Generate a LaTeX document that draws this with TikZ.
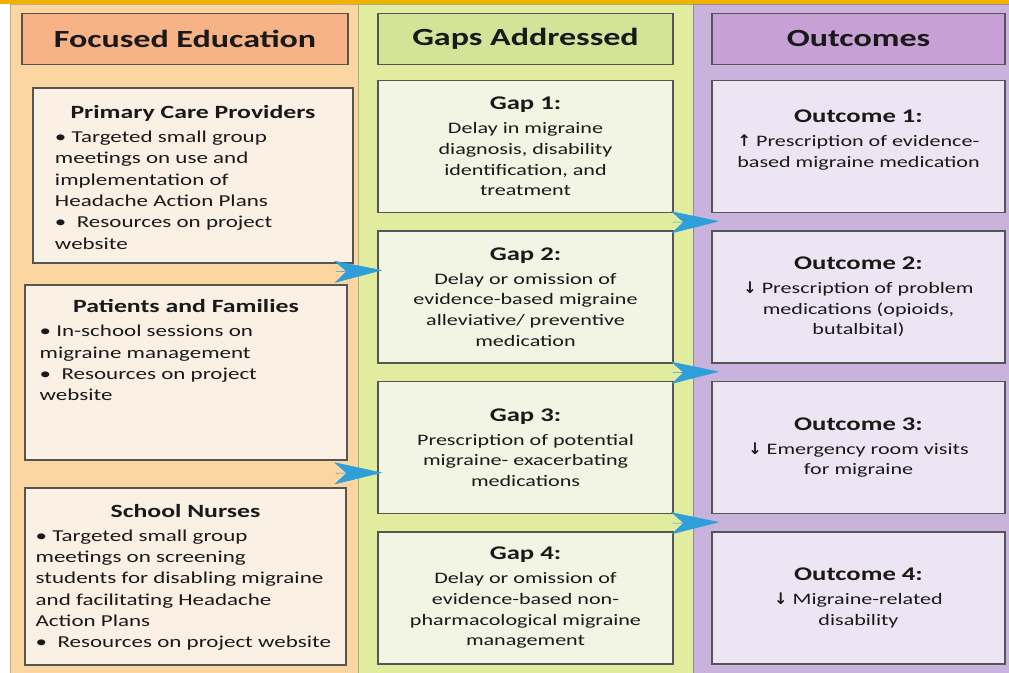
\documentclass[tikz,border=0pt]{standalone}
\usepackage{fontspec}
\setmainfont{Carlito}[FakeStretch=1.38]
\newfontfamily\arrowfont{DejaVu Sans}
\usepackage{xcolor}
\usepackage{tikz}
\usetikzlibrary{calc}
\usetikzlibrary{arrows.meta}

\definecolor{gold}{HTML}{EFB200}
\definecolor{edubg}{HTML}{FCD6A0}
\definecolor{eduhdr}{HTML}{F7B385}
\definecolor{edufill}{HTML}{FBF0E4}
\definecolor{gapbg}{HTML}{E2EC9F}
\definecolor{gaphdr}{HTML}{D3E397}
\definecolor{gapfill}{HTML}{F2F5E3}
\definecolor{outbg}{HTML}{C9B3DC}
\definecolor{outhdr}{HTML}{C7A1D6}
\definecolor{outfill}{HTML}{EDE5F3}
\definecolor{flowblue}{HTML}{2E9FD9}
\definecolor{edgegray}{HTML}{555555}

\newcommand{\boxttl}[1]{{\centering\fontsize{14}{17}\selectfont\bfseries #1\par}\vspace{2pt}}
\newcommand{\cellttl}[1]{{\fontsize{14.5}{17}\selectfont\bfseries #1}}
\newcommand{\arrup}{{\arrowfont\bfseries ↑}}
\newcommand{\arrdn}{{\arrowfont\bfseries ↓}}

\tikzset{
	hdr/.style={draw=edgegray, line width=1.1pt, minimum height=38.25pt, inner sep=0pt, font=\fontsize{18.5}{22}\selectfont\bfseries},
	srcbox/.style={draw=edgegray, line width=1.1pt, fill=edufill, font=\fontsize{12.5}{16}\selectfont},
	gapbox/.style={draw=edgegray, line width=1.1pt, fill=gapfill, minimum width=221.25pt, minimum height=99pt, align=center, font=\fontsize{12}{15.5}\selectfont},
	outbox/.style={draw=edgegray, line width=1.1pt, fill=outfill, minimum width=219.75pt, minimum height=99pt, align=center, font=\fontsize{12}{15.5}\selectfont},
	flow/.style={draw=flowblue, line width=0.4pt, -{Stealth[length=36pt, width=16.5pt, inset=9pt]}}
}

\begin{document}
\begin{tikzpicture}[x=0.75pt, y=-0.75pt, text=black!90]
			\useasboundingbox (0,0) rectangle (1009,673);
			%background
			\fill [white] (0,0) rectangle (1009,673);
			\fill [gold] (0,0) rectangle (1009,4);
			\filldraw [fill=edubg, draw=edubg!80!black] (10,4) rectangle (358,673);
			\filldraw [fill=gapbg, draw=gapbg!75!black] (358,4) rectangle (693,673);
			\filldraw [fill=outbg, draw=outbg!75!black] (693,4) rectangle (1009,673);

			%headers
			\node at (185,39) (hdrEdu) [hdr, fill=eduhdr, minimum width=244.5pt] {Focused Education};
			\node at (525.5,39) (hdrGap) [hdr, fill=gaphdr, minimum width=221.25pt] {Gaps Addressed};
			\node at (858.5,39) (hdrOut) [hdr, fill=outhdr, minimum width=219.75pt] {Outcomes};

			%focused education
			\node at (193,175.5) (pcp) [srcbox, inner xsep=16.5pt, inner ysep=13pt] {\parbox[c][105.25pt][t]{207pt}{\boxttl{Primary Care Providers}\raggedright • Targeted small group\\ meetings on use and\\ implementation of\\ Headache Action Plans\\ •~~Resources on project\\ website}};
			\node at (186,372.5) (pf) [srcbox, inner xsep=11pt, inner ysep=11pt] {\parbox[c][109.25pt][t]{219.5pt}{\boxttl{Patients and Families}\raggedright • In-school sessions on\\ migraine management\\ •~~Resources on project\\ website}};
			\node at (185.5,576.5) (sn) [srcbox, inner xsep=8pt, inner ysep=12pt] {\parbox[c][108.75pt][t]{224.75pt}{\boxttl{School Nurses}\raggedright • Targeted small group\\ meetings on screening\\ students for disabling migraine\\ and facilitating Headache\\ Action Plans\\ •~~Resources on project website}};

			%gaps
			\node at (525.5,146.5) (gap1) [gapbox] {\cellttl{Gap 1:}\\[2.5pt] Delay in migraine\\ diagnosis, disability\\ identification, and\\ treatment};
			\node [anchor=north] at ($(gap1.south) + (0,17)$) (gap2) [gapbox] {\cellttl{Gap 2:}\\[2.5pt] Delay or omission of\\ evidence-based migraine\\ alleviative/ preventive\\ medication};
			\node [anchor=north] at ($(gap2.south) + (0,17)$) (gap3) [gapbox] {\cellttl{Gap 3:}\\[2.5pt] Prescription of potential\\ migraine- exacerbating\\ medications};
			\node [anchor=north] at ($(gap3.south) + (0,17)$) (gap4) [gapbox] {\cellttl{Gap 4:}\\[2.5pt] Delay or omission of\\ evidence-based non-\\ pharmacological migraine\\ management};

			%outcomes
			\node at (858.5,146.5) (out1) [outbox] {\cellttl{Outcome 1:}\\[2.5pt] \arrup\ Prescription of evidence-\\ based migraine medication\\[-4pt]\mbox{}};
			\node [anchor=north] at ($(out1.south) + (0,17)$) (out2) [outbox] {\cellttl{Outcome 2:}\\[2.5pt] \arrdn\ Prescription of problem\\ medications (opioids,\\ butalbital)};
			\node [anchor=north] at ($(out2.south) + (0,17)$) (out3) [outbox] {\cellttl{Outcome 3:}\\[2.5pt] \arrdn\ Emergency room visits\\ for migraine};
			\node [anchor=north] at ($(out3.south) + (0,17)$) (out4) [outbox] {\cellttl{Outcome 4:}\\[2.5pt] \arrdn\ Migraine-related\\ disability};

			%arrows
			\coordinate (l1) at ($(pcp.south east) + (-18,8)$);
			\coordinate (l2) at ($(sn.north east) + (-11,-14)$);
			\coordinate (r1) at ($(gap1.south east) + (-1,9)$);
			\coordinate (r2) at ($(gap2.south east) + (-1,9)$);
			\coordinate (r3) at ($(gap3.south east) + (-1,9)$);
			\draw [flow] (l1) -- ($(gap2.north west) + (5,40)$);
			\draw [flow] (l2) -- ($(gap3.north west) + (5,92)$);
			\draw [flow] (r1) -- ($(out2.north west) + (8,-9)$);
			\draw [flow] (r2) -- ($(out3.north west) + (8,-9)$);
			\draw [flow] (r3) -- ($(out4.north west) + (8,-9)$);
		\end{tikzpicture}
\end{document}
